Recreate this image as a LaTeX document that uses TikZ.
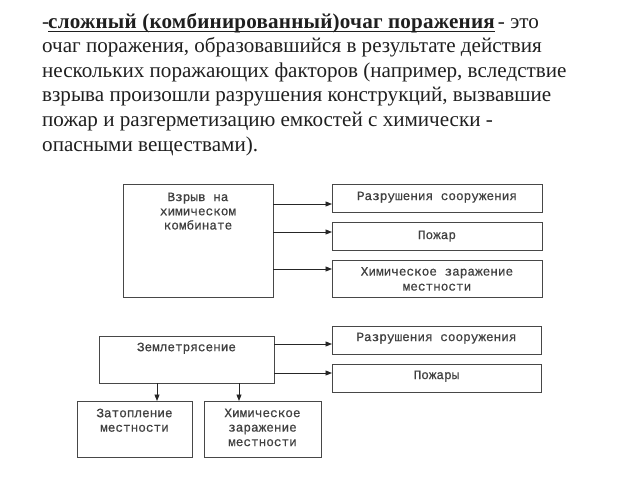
\documentclass[tikz,border=0pt]{standalone}
\usepackage{fontspec}
\setmainfont{Liberation Serif}
\newfontfamily\boxfont[FakeBold=0.6]{Liberation Mono}
\newfontfamily\spacedbold[LetterSpace=1]{Liberation Serif Bold}
\usetikzlibrary{arrows.meta}
\begin{document}
\begin{tikzpicture}[x=1pt,y=-1pt,
  bx/.style={draw=black!72,line width=1pt,fill=white,inner sep=0pt},
  lbl/.style={font=\boxfont\fontsize{12.7}{14.2}\selectfont,align=center,text=black!75,inner sep=0pt,anchor=north},
  para/.style={anchor=base west,inner sep=0pt,text=black!88,font=\fontsize{21.1}{24}\selectfont},
  arr/.style={draw=black!85,line width=0.9pt,-{Triangle[length=6.5pt,width=5pt]}}]
\useasboundingbox (0,0) rectangle (640,480);
% paragraph
\node[para] (p0) at (42,28) {-};
\node[para] (p1b) at (48,28) {\spacedbold сложный (комбинированный)очаг поражения};
\node[para,anchor=base east] (p1e) at (539,28) {- это};
\draw[black!88,line width=1.4pt] ([yshift=-3.2pt]p1b.base west) -- ([yshift=-3.2pt]p1b.base east);
\node[para] (p2) at (42,52.6) {очаг поражения, образовавшийся в результате действия};
\node[para] (p3) at (42,77.2) {нескольких поражающих факторов (например, вследствие};
\node[para] (p4) at (42,101.8) {взрыва произошли разрушения конструкций, вызвавшие};
\node[para] (p5) at (42,126.4) {пожар и разгерметизацию емкостей с химически -};
\node[para] (p6) at (42,151) {опасными веществами).};
% top block
\path[bx] (123,184) rectangle (273,297);
\node[lbl] (atext) at (198,192.5) {Взрыв на\\химическом\\комбинате};
\path[bx] (332,184) rectangle (542,212);
\path[bx] (332,222) rectangle (542,250);
\path[bx] (332,260) rectangle (542,297);
\node[lbl] (b1) at (437,191.5) {Разрушения сооружения};
\node[lbl] (b2) at (437,230.5) {Пожар};
\node[lbl,font=\boxfont\fontsize{12.7}{15}\selectfont] (b3) at (437,267) {Химическое заражение\\местности};
\coordinate (a1) at (273,204); \coordinate (t1) at (332,204);
\coordinate (a2) at (273,232); \coordinate (t2) at (332,232);
\coordinate (a3) at (273,269); \coordinate (t3) at (332,269);
\draw[arr] (a1) -- (t1);
\draw[arr] (a2) -- (t2);
\draw[arr] (a3) -- (t3);
% bottom block
\path[bx] (99,336) rectangle (274,383);
\node[lbl] (etext) at (186.5,342.5) {Землетрясение};
\path[bx] (332,326) rectangle (541,354);
\path[bx] (332,364) rectangle (541,392);
\node[lbl] (c1) at (436.5,332.5) {Разрушения сооружения};
\node[lbl] (c2) at (436.5,370.5) {Пожары};
\path[bx] (77,401) rectangle (192,457);
\path[bx] (204,401) rectangle (321,457);
\node[lbl,font=\boxfont\fontsize{12.7}{14.5}\selectfont] (d1) at (134.5,408.5) {Затопление\\местности};
\node[lbl,font=\boxfont\fontsize{12.7}{14.5}\selectfont] (d2) at (262.5,408.5) {Химическое\\заражение\\местности};
\coordinate (e1) at (274,344); \coordinate (f1) at (332,344);
\coordinate (e2) at (274,373); \coordinate (f2) at (332,373);
\coordinate (g1) at (157,383); \coordinate (h1) at (157,401);
\coordinate (g2) at (239,383); \coordinate (h2) at (239,401);
\draw[arr] (e1) -- (f1);
\draw[arr] (e2) -- (f2);
\draw[arr] (g1) -- (h1);
\draw[arr] (g2) -- (h2);
\end{tikzpicture}
\end{document}
